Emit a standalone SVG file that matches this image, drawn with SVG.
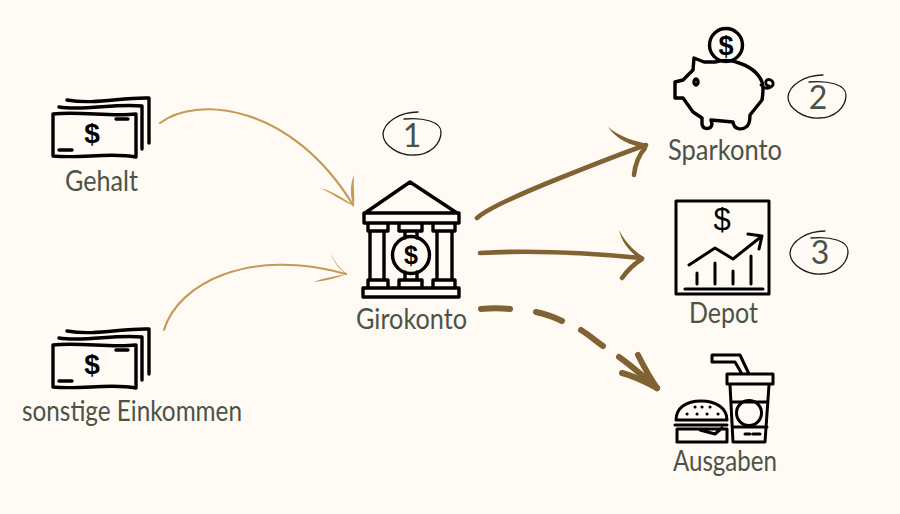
<svg xmlns="http://www.w3.org/2000/svg" width="900" height="514" viewBox="0 0 900 514">
<style>
.lbl{font-family:"Lato","Open Sans",sans-serif;font-size:29px;fill:#4b5347}
.num{font-family:"Lato","Open Sans",sans-serif;font-size:32px;fill:#4b5347;text-anchor:middle}
.ico{fill:none;stroke:#000;stroke-width:3.4;stroke-linecap:round;stroke-linejoin:round}
.thin{stroke-width:3}
.dol{font-family:"Liberation Sans",sans-serif;font-weight:700;fill:#000;text-anchor:middle}
.ring{fill:none;stroke:#1c1c1c;stroke-width:1.3;stroke-linecap:round}
.a1{fill:none;stroke:#c49a56;stroke-width:2.1;stroke-linecap:round;stroke-linejoin:round}
.a1h{fill:#c49a56}
.a2{fill:none;stroke:#806233;stroke-width:4.6;stroke-linecap:round;stroke-linejoin:round}
.a2h{fill:#806233}
.a3{fill:none;stroke:#806233;stroke-width:6;stroke-linecap:round;stroke-linejoin:round}
</style>
<defs>
<g id="money">
<path class="ico" d="M53 114C80 111 110 117 136 114L136 157C110 152 80 159 53 156Z"/>
<path class="ico" d="M59 107C85 111 115 103 142 106L142 149"/>
<path class="ico" d="M67 100C95 105 122 97 149 98L149 143"/>
<path class="ico" d="M116 119L128 119M59 150L72 150"/>
<text class="dol" x="92" y="143" font-size="28">$</text>
</g>
<path id="ring" class="ring" d="M6 -22C-12 -22 -28 -12 -29 0C-29 12 -12 22 2 21C18 21 29 10 29 -2C29 -12 12 -17 -8 -15"/>
</defs>
<rect width="900" height="514" fill="#fffaf4"/>
<g id="connectors">
<path class="a1" d="M160 123C195 96 290 102 353 205"/>
<path class="a1h" d="M354 175C353 186 355 196 354 207C351 200 349 186 354 175Z"/>
<path class="a1h" d="M320 188C332 191 345 199 354 206C344 202 331 193 320 188Z"/>
<path class="a1" d="M164 330C178 283 250 247 346 274"/>
<path class="a1h" d="M330 253C335 262 340 269 347 274C340 271 334 262 330 253Z"/>
<path class="a1h" d="M313 282C324 278 336 276 347 274C337 278 325 281 313 282Z"/>
<path class="a2" d="M477 218C488 208 530 190 560 178C590 166 620 154 646 145"/>
<path class="a2h" d="M608 127C620 137 634 141 648 144L646 148C631 146 616 139 608 127Z"/>
<path class="a2" d="M645 148C638 156 635 165 634 175"/>
<path class="a2" d="M480 253C530 250 590 253 641 258"/>
<path class="a2h" d="M619 230C625 242 634 251 645 258L640 259C630 252 622 243 619 230Z"/>
<path class="a2" d="M642 259C634 264 627 271 622 278"/>
<path class="a3" d="M481 309C491 308 500 308 510 309"/>
<path class="a3" d="M536 312C545 314 554 317 562 321"/>
<path class="a3" d="M581 330C589 335 596 341 603 346"/>
<path class="a3" d="M619 357C632 366 645 378 657 388"/>
<path class="a3" d="M638 355C644 367 650 378 657 388"/>
<path class="a3" d="M622 373C634 376 646 382 657 388"/>
</g>
<g id="gehalt"><use href="#money"/><text class="lbl" x="65" y="191" textLength="73" lengthAdjust="spacingAndGlyphs">Gehalt</text></g>
<g id="sonstige"><use href="#money" y="231"/><text class="lbl" x="22" y="421" textLength="220" lengthAdjust="spacingAndGlyphs">sonstige Einkommen</text></g>
<g id="girokonto">
<path class="ico" d="M365 213L410 182L457 213M364 213H459V223H364ZM368 223H388V231H368ZM399 223H422V231H399ZM433 223H455V231H433ZM370 231V280M384 231V280M437 231V280M452 231V280M368 280H388V288H368ZM399 280H422V288H399ZM433 280H455V288H433ZM363 288H459V297H363ZM405 231V238M417 231V238M405 272V280M417 272V280"/>
<circle class="ico" cx="411" cy="255" r="18.500"/>
<text class="dol" x="411" y="264" font-size="25">$</text>
<text class="lbl" x="356" y="329" textLength="111" lengthAdjust="spacingAndGlyphs">Girokonto</text>
</g>
<g id="badge1"><use href="#ring" x="412" y="134"/><text class="num" x="412" y="147">1</text></g>
<g id="sparkonto">
<circle class="ico" cx="726" cy="45" r="16.500"/>
<text class="dol" x="726" y="55" font-size="27">$</text>
<path class="ico" d="M715 62L704 62L694 58L693 70L683 80L675 82L675 98L683 98L693 112L702 118L702 124C703 130 711 130 712 124L711 120L733 122C734 130 742 130 746 127C750 125 750 118 750 115L762 100C764 88 762 82 762 82C758 72 750 66 736 62C730 60 722 60 715 62Z"/>
<ellipse class="ico" cx="696" cy="82" rx="2" ry="3"/>
<path d="M761 85C765 90 770 89 773 85C774 80 768 78 766 81C765 84 767 86 769 86" fill="none" stroke="#000" stroke-width="2.800" stroke-linecap="round"/>
<text class="lbl" x="668" y="160" textLength="114" lengthAdjust="spacingAndGlyphs">Sparkonto</text>
</g>
<g id="badge2"><use href="#ring" x="817" y="97"/><text class="num" x="818" y="109">2</text></g>
<g id="depot">
<rect class="ico thin" x="676" y="201" width="93" height="93" stroke-linejoin="miter"/>
<text class="dol" x="722" y="230" font-size="31" style="font-weight:400">$</text>
<path class="ico thin" d="M689 265L715 248L733 259L762 236M748 234L762 236L759 249M697 273V284M715 263V284M733 271V284M751 256V284M685 289H763"/>
<text class="lbl" x="689" y="323" textLength="69" lengthAdjust="spacingAndGlyphs">Depot</text>
</g>
<g id="badge3"><use href="#ring" x="819" y="253"/><text class="num" x="820" y="264">3</text></g>
<g id="ausgaben">
<path class="ico thin" d="M727 374H773V384H727ZM730 385L733 442H765L769 385M731 402H768M732 427H767M742 374L735 362H712V355H740L749 374M745 434H750M753 434H760"/>
<circle class="ico thin" cx="749" cy="413" r="12.500"/>
<path class="ico thin" d="M676 420C676 408 686 401 701 401C716 401 727 408 727 420ZM675 425H727M677 429H727V442H677ZM700 430L715 434L722 428"/>
<path d="M695 407h.1M702 407h.1M710 407h.1M687 414h.1M697 414h.1M707 414h.1M718 414h.1" stroke="#000" stroke-width="3" stroke-linecap="round" fill="none"/>
<text class="lbl" x="673" y="471" textLength="104" lengthAdjust="spacingAndGlyphs">Ausgaben</text>
</g>
</svg>
